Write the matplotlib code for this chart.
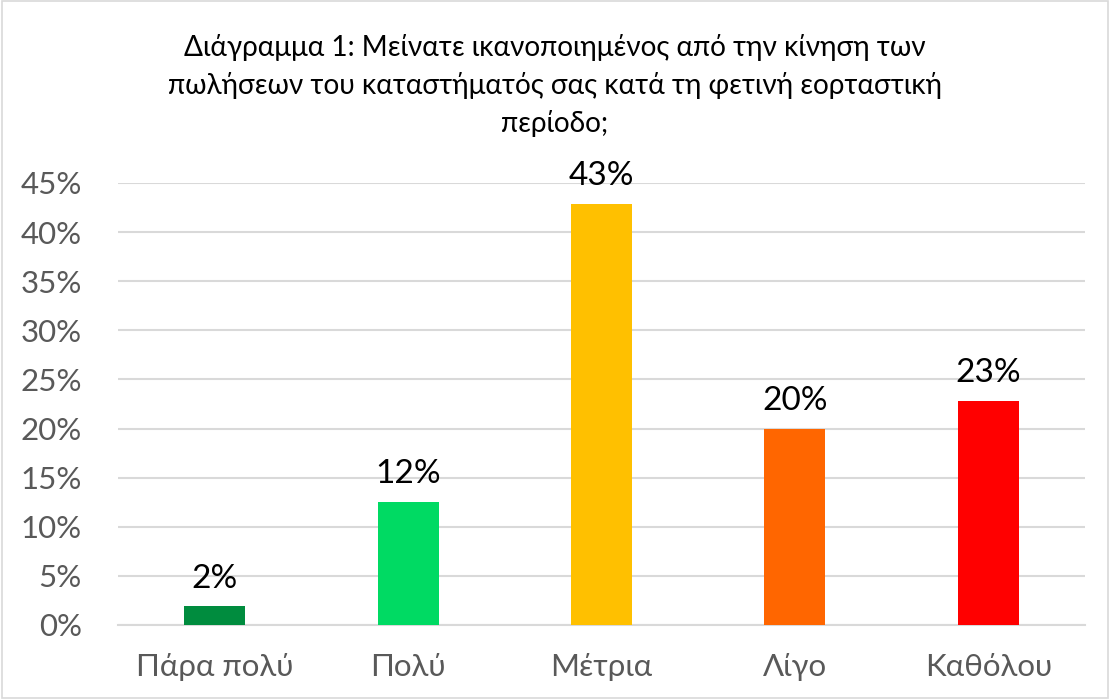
import matplotlib
matplotlib.use('Agg')
import matplotlib.pyplot as plt
from matplotlib.patches import Rectangle
from matplotlib.ticker import PercentFormatter

# data
categories = ['Πάρα πολύ', 'Πολύ', 'Μέτρια', 'Λίγο', 'Καθόλου']
values = [0.019, 0.125, 0.429, 0.200, 0.228]
labels = ['2%', '12%', '43%', '20%', '23%']
colors = ['#008C3E', '#00DA63', '#FFC000', '#FF6600', '#FF0000']

plt.rcParams['font.family'] = ['Lato', 'DejaVu Sans']

fig = plt.figure(figsize=(11.1, 6.99), dpi=100)
ax = fig.add_axes([0.1063, 0.1059, 0.8712, 0.6323])

x = range(len(categories))
ax.bar(x, values, width=0.315, color=colors, zorder=3)
for xi, v, lab in zip(x, values, labels):
    ax.text(xi, v + 0.013, lab, ha='center', va='bottom', fontsize=24, color='black')

ax.set_xlim(-0.5, 4.5)
ax.set_ylim(0, 0.45)
ax.set_yticks([i * 0.05 for i in range(10)])
ax.yaxis.set_major_formatter(PercentFormatter(1.0, decimals=0))
ax.set_xticks(list(x))
ax.set_xticklabels(categories)
ax.tick_params(axis='both', length=0, labelsize=22.5, labelcolor='#595959')
ax.tick_params(axis='x', pad=20)
ax.tick_params(axis='y', pad=26)
ax.grid(axis='y', color='#D9D9D9', linewidth=1.5, zorder=0)
for s in ['top', 'right', 'left']:
    ax.spines[s].set_visible(False)
ax.spines['bottom'].set_color('#D9D9D9')
ax.spines['bottom'].set_linewidth(1.5)

fig.text(0.5, 0.951, 'Διάγραμμα 1: Μείνατε ικανοποιημένος από την κίνηση των\n'
         'πωλήσεων του καταστήματός σας κατά τη φετινή εορταστική\nπερίοδο;',
         ha='center', va='top', fontsize=20.2, linespacing=1.5, color='black')

fig.patches.append(Rectangle((0.002, 0.002), 0.996, 0.996, transform=fig.transFigure,
                             fill=False, edgecolor='#D9D9D9', linewidth=1.2))

fig.savefig('out.png', dpi=100, facecolor='white')
